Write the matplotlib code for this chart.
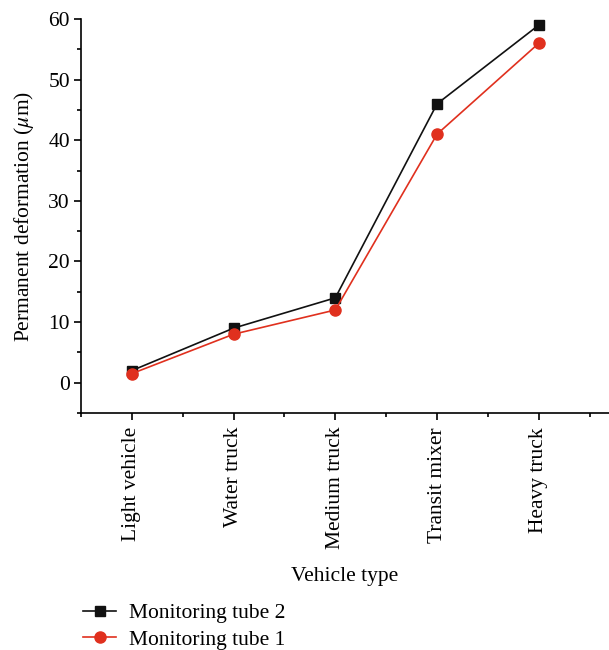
import matplotlib
matplotlib.use("Agg")
import matplotlib.pyplot as plt
from matplotlib.ticker import MultipleLocator

vehicles = ["Light vehicle", "Water truck", "Medium truck", "Transit mixer", "Heavy truck"]
tube2 = [2, 9, 14, 46, 59]
tube1 = [1.5, 8, 12, 41, 56]

plt.rcParams["font.family"] = ["Liberation Serif", "DejaVu Serif"]
plt.rcParams["mathtext.fontset"] = "stix"

fig = plt.figure(figsize=(6.09, 6.5), dpi=100)
ax = fig.add_axes([0.133, 0.3646, 0.867, 0.6062])

x = list(range(len(vehicles)))
ax.plot(x, tube2, color="#111111", lw=1.2, marker="s", ms=7.5, label="Monitoring tube 2")
ax.plot(x, tube1, color="#e0301e", lw=1.2, marker="o", ms=8, label="Monitoring tube 1")

ax.set_xlim(-0.5, 4.69)
ax.set_ylim(-5, 60)
ax.set_xticks(x)
ax.set_xticklabels(vehicles, rotation=90, fontsize=15.5)
ax.set_xticks([i + 0.5 for i in range(-1, 5)], minor=True)
ax.yaxis.set_major_locator(MultipleLocator(10))
ax.yaxis.set_minor_locator(MultipleLocator(5))
ax.tick_params(axis="both", which="major", length=5, width=1.2, labelsize=15.5, direction="out")
ax.tick_params(axis="both", which="minor", length=3, width=1.2, direction="out")
ax.tick_params(axis="y", pad=3)
ax.tick_params(axis="x", pad=5)

for s in ["top", "right"]:
    ax.spines[s].set_visible(False)
for s in ["left", "bottom"]:
    ax.spines[s].set_linewidth(1.2)

ax.set_xlabel("Vehicle type", fontsize=15.5, labelpad=13)
ax.set_ylabel("Permanent deformation ($\\mu$m)", fontsize=15.5, labelpad=9)

fig.legend(loc="upper left", bbox_to_anchor=(0.137, 0.072), bbox_transform=fig.transFigure,
           frameon=False, fontsize=15.5, handlelength=1.5, handletextpad=0.6,
           labelspacing=0.3, borderaxespad=0, borderpad=0)

fig.savefig("out.png", dpi=100)
